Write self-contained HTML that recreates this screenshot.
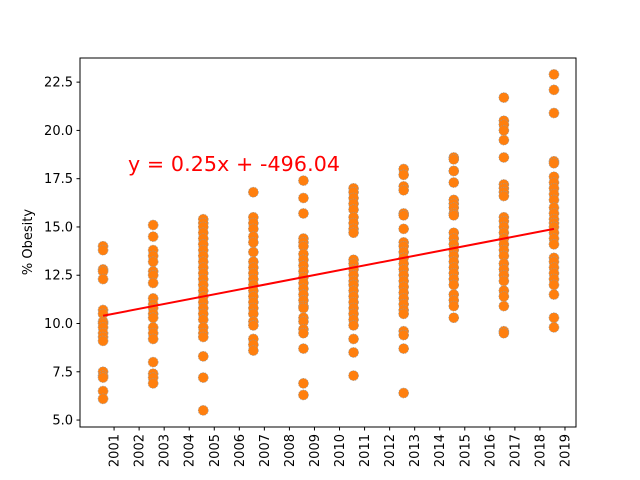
<!DOCTYPE html>
<html><head><meta charset="utf-8"><style>
body{margin:0;background:#fff}
svg{display:block;font-family:"DejaVu Sans","Liberation Sans",sans-serif}
</style></head><body>
<svg id="chart" width="640" height="480">
<g id="axes"></g>
<g id="marks"></g>
<g id="trend"></g>
<text x="128" y="171" font-size="20.6" textLength="212" fill="#ff0000">y = 0.25x + -496.04</text>
<text transform="translate(32,242) rotate(-90)" text-anchor="middle" font-size="13" fill="#000">% Obesity</text>
<text x="328" y="491" text-anchor="middle" font-size="13" fill="#000">Year</text>
</svg>
<script>
const xTickLabels=[2001,2002,2003,2004,2005,2006,2007,2008,2009,2010,2011,2012,2013,2014,2015,2016,2017,2018,2019];
const yTickLabels=["5.0","7.5","10.0","12.5","15.0","17.5","20.0","22.5"];
const groupX=[2000.56,2002.56,2004.56,2006.56,2008.56,2010.56,2012.56,2014.56,2016.56,2018.56];
const g1=[14.0,13.8,12.8,12.7,12.3,10.7,10.5,10.1,10.0,9.8,9.5,9.3,9.1,7.5,7.3,7.2,6.5,6.1];
const g2=[15.1,14.5,13.8,13.5,13.2,12.7,12.5,12.1,11.3,11.0,10.8,10.5,10.3,9.8,9.5,9.2,8.0,7.4,7.2,6.9];
const g3=[15.4,15.2,15.0,14.7,14.4,14.1,13.8,13.5,13.2,12.9,12.6,12.3,12.0,11.7,11.4,11.1,10.8,10.5,10.2,9.8,9.5,9.3,8.3,7.2,5.5];
const g4=[16.8,15.5,15.2,14.9,14.5,14.2,13.7,13.2,12.9,12.6,12.3,12.0,11.7,11.4,11.1,10.8,10.5,10.1,9.9,9.2,8.9,8.6];
const g5=[17.4,16.5,15.7,14.4,14.2,14.0,13.6,13.3,13.0,12.7,12.4,12.1,11.8,11.5,11.2,10.9,10.8,10.3,10.1,9.7,9.5,8.7,6.9,6.3];
const g6=[17.0,16.8,16.5,16.2,15.9,15.5,15.2,14.9,14.7,13.3,13.1,12.8,12.5,12.2,12.0,11.7,11.4,11.1,10.8,10.5,10.2,9.9,9.2,8.5,7.3];
const g7=[18.0,17.7,17.1,16.9,15.7,15.6,14.9,14.2,14.0,13.7,13.4,13.1,12.8,12.5,12.2,11.9,11.6,11.3,11.0,10.7,10.5,9.6,9.4,8.7,6.4];
const g8=[18.6,18.5,17.9,17.9,17.3,16.4,16.2,16.0,15.7,15.6,14.7,14.4,14.1,13.8,13.5,13.2,12.9,12.6,12.3,12.0,11.5,11.2,10.9,10.3];
const g9=[21.7,20.5,20.3,20.0,19.5,18.6,17.2,17.0,16.8,16.6,15.5,15.3,15.0,14.7,14.4,14.1,13.8,13.5,13.1,12.8,12.5,12.2,11.7,11.4,10.9,9.6,9.5];
const g10=[22.9,22.1,20.9,18.4,18.3,17.6,17.3,17.0,16.7,16.4,16.0,15.7,15.4,15.2,15.0,14.7,14.4,14.1,13.4,13.2,12.9,12.6,12.3,12.0,11.5,10.3,9.8];
const groups=[g1,g2,g3,g4,g5,g6,g7,g8,g9,g10];
const trendStartEnd=[10.4,14.9];

const NS="http://www.w3.org/2000/svg";
const L=80,R=576,T=58,B=427;
const xMin=1999.64,xMax=2019.44,yMin=4.64,yMax=23.75;
const sx=v=>L+(v-xMin)/(xMax-xMin)*(R-L);
const sy=v=>B-(v-yMin)/(yMax-yMin)*(B-T);
function mk(tag,attrs,parent){const e=document.createElementNS(NS,tag);for(const k in attrs)e.setAttribute(k,attrs[k]);parent.appendChild(e);return e;}
const axes=document.getElementById('axes');
const frame=mk('rect',{x:L,y:T,width:R-L,height:B-T,fill:'none',stroke:'#000','stroke-width':1},axes);


yTickLabels.forEach(t=>{const y=sy(parseFloat(t));
 const tk=mk('line',{x1:L-3.5,x2:L,y1:y,y2:y,stroke:'#000'},axes);
 
 
 const tx=mk('text',{x:L-7,y:y+4.5,'text-anchor':'end','font-size':13},axes);tx.textContent=t;
 
 
});
xTickLabels.forEach(t=>{const x=sx(t);
 const tk=mk('line',{x1:x,x2:x,y1:B,y2:B+3.5,stroke:'#000'},axes);
 
 
 const tx=mk('text',{transform:`translate(${x+4.5},${B+7}) rotate(-90)`,'text-anchor':'end','font-size':13},axes);tx.textContent=t;
 
 
});
const marks=document.getElementById('marks');
groups.forEach((g,i)=>g.forEach(v=>{
 const c=mk('circle',{cx:sx(groupX[i]),cy:sy(v),r:5,fill:'#ff7f0e',stroke:'#999','stroke-width':0.6,'stroke-dasharray':'1.5 1'},marks);
 
 
}));
const trend=document.getElementById('trend');
const ln=mk('line',{x1:sx(groupX[0]),y1:sy(trendStartEnd[0]),x2:sx(groupX[groupX.length-1]),y2:sy(trendStartEnd[1]),stroke:'#ff0000','stroke-width':2},trend);


</script>
</body></html>
